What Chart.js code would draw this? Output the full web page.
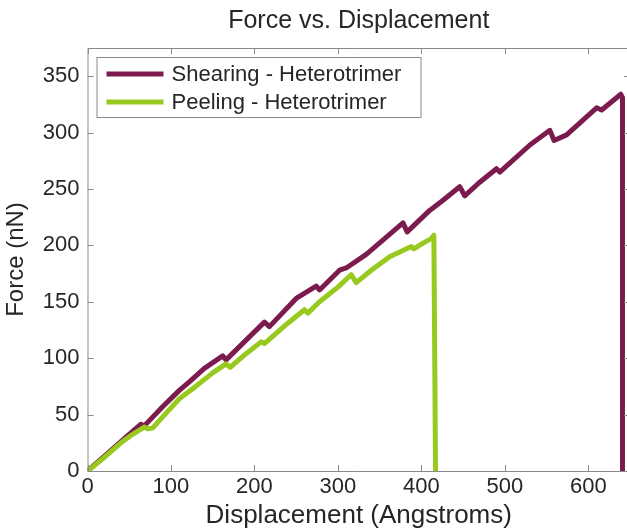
<!DOCTYPE html>
<html>
<head>
<meta charset="utf-8">
<script src="https://cdn.jsdelivr.net/npm/chart.js@4.4.0/dist/chart.umd.min.js"></script>
<style>
  body { margin: 0; background: #fff; }
  .wrap { width: 627px; height: 529px; overflow: hidden; }
</style>
</head>
<body>
<div class="wrap"><canvas id="chart" width="640" height="529"></canvas></div>
<script>
const seriesNames = ['Shearing - Heterotrimer', 'Peeling - Heterotrimer'];

const dispShear = [0, 20, 40, 64, 68, 90, 110, 122, 140, 162, 166, 190, 212, 218, 250, 274, 278, 302, 310, 334, 356, 378, 383, 410, 426, 446, 452, 470, 490, 494, 530, 554, 559, 574, 595, 610, 616, 639, 641, 641];
const forceShear = [0, 13, 26, 41.5, 40, 57, 71.5, 79, 91, 102, 98.5, 116, 132, 128, 153, 164, 160.5, 178, 180, 192, 206, 220, 212, 231, 240, 252, 244, 256, 268, 265, 289, 302, 293, 298, 312, 322, 320, 334, 331, 0];

const dispPeel = [0, 20, 40, 55, 68, 72, 78, 95, 110, 126, 150, 166, 171, 190, 208, 212, 240, 260, 264, 278, 300, 316, 322, 340, 362, 388, 391, 402, 412, 415, 417];
const forcePeel = [0, 12, 25, 33, 39, 37.5, 38, 52, 64, 73, 87, 95, 92, 104, 114.5, 113, 131, 143, 140, 150, 163, 174, 167, 178, 190, 199, 197, 202, 206, 209, 0];

const xTicks = [0, 100, 200, 300, 400, 500, 600];
const yTicks = [0, 50, 100, 150, 200, 250, 300, 350];

const purple = '#7c1b4d';
const green = '#97c91f';
const axisGray = '#8a8a8a';
const textColor = '#262626';
const fontFamily = '"Liberation Sans", Arial, sans-serif';

function toPoints(xs, ys) {
    return xs.map((x, i) => ({ x: x, y: ys[i] }));
}

// box round the plot with MATLAB-style inward ticks
const boxPlugin = {
    id: 'box',
    afterDatasetsDraw(chart) {
        const ctx = chart.ctx;
        const a = chart.chartArea;
        const xs = chart.scales.x;
        const ys = chart.scales.y;
        const len = 6;
        ctx.save();
        ctx.strokeStyle = axisGray;
        ctx.lineWidth = 1;
        ctx.beginPath();
        ctx.rect(a.left + 0.5, a.top + 0.5, a.right - a.left, a.bottom - a.top);
        xs.ticks.forEach((t) => {
            const px = Math.round(xs.getPixelForValue(t.value)) + 0.5;
            ctx.moveTo(px, a.bottom);
            ctx.lineTo(px, a.bottom - len);
            ctx.moveTo(px, a.top);
            ctx.lineTo(px, a.top + len);
        });
        ys.ticks.forEach((t) => {
            const py = Math.round(ys.getPixelForValue(t.value)) + 0.5;
            ctx.moveTo(a.left, py);
            ctx.lineTo(a.left + len, py);
            ctx.moveTo(a.right, py);
            ctx.lineTo(a.right - len, py);
        });
        ctx.stroke();
        ctx.restore();
    },
    afterDraw(chart) {
        // legend inside the plot, top left
        const ctx = chart.ctx;
        const a = chart.chartArea;
        const left = a.left + 9;
        const top = a.top + 9;
        const w = 324;
        const h = 60;
        ctx.save();
        ctx.fillStyle = '#fff';
        ctx.fillRect(left, top, w, h);
        ctx.strokeStyle = axisGray;
        ctx.lineWidth = 1;
        ctx.strokeRect(left + 0.5, top + 0.5, w, h);
        ctx.font = '22px ' + fontFamily;
        ctx.textBaseline = 'middle';
        chart.data.datasets.forEach((ds, i) => {
            const cy = top + 17 + i * 28;
            ctx.strokeStyle = ds.borderColor;
            ctx.lineWidth = 5;
            ctx.beginPath();
            ctx.moveTo(left + 10, cy);
            ctx.lineTo(left + 67, cy);
            ctx.stroke();
            ctx.fillStyle = textColor;
            ctx.fillText(ds.label, left + 75, cy + 1);
        });
        ctx.restore();
    }
};

new Chart(document.getElementById('chart'), {
    type: 'scatter',
    data: {
        datasets: [
            {
                label: seriesNames[0],
                data: toPoints(dispShear, forceShear),
                borderColor: purple,
                backgroundColor: purple,
                borderWidth: 5,
                showLine: true,
                pointRadius: 0,
                borderJoinStyle: 'round',
                order: 2
            },
            {
                label: seriesNames[1],
                data: toPoints(dispPeel, forcePeel),
                borderColor: green,
                backgroundColor: green,
                borderWidth: 5,
                showLine: true,
                pointRadius: 0,
                borderJoinStyle: 'round',
                order: 1
            }
        ]
    },
    options: {
        responsive: false,
        devicePixelRatio: 1,
        animation: false,
        layout: { padding: { left: 2, right: 10, top: 0, bottom: 0 } },
        plugins: {
            legend: { display: false },
            tooltip: { enabled: false },
            title: {
                display: true,
                fullSize: false,
                text: 'Force vs. Displacement',
                color: textColor,
                font: { family: fontFamily, size: 25, weight: 'normal' },
                padding: { top: 6, bottom: 12 }
            }
        },
        scales: {
            x: {
                type: 'linear',
                min: 0,
                max: 650,
                afterBuildTicks: (scale) => { scale.ticks = xTicks.map((v) => ({ value: v })); },
                grid: { display: false, drawTicks: false, tickLength: 0 },
                border: { display: false },
                ticks: {
                    color: textColor,
                    font: { family: fontFamily, size: 22, lineHeight: 1 },
                    padding: 5,
                    maxRotation: 0
                },
                title: {
                    display: true,
                    text: 'Displacement (Angstroms)',
                    color: textColor,
                    font: { family: fontFamily, size: 26, lineHeight: 1 },
                    padding: { top: 0, bottom: 0 }
                }
            },
            y: {
                type: 'linear',
                min: 0,
                max: 375,
                afterBuildTicks: (scale) => { scale.ticks = yTicks.map((v) => ({ value: v })); },
                grid: { display: false, drawTicks: false, tickLength: 0 },
                border: { display: false },
                ticks: {
                    color: textColor,
                    font: { family: fontFamily, size: 22 },
                    padding: 8
                },
                title: {
                    display: true,
                    text: 'Force (nN)',
                    color: textColor,
                    font: { family: fontFamily, size: 24 },
                    padding: { top: 0, bottom: 4 }
                }
            }
        }
    },
    plugins: [boxPlugin]
});
</script>
</body>
</html>
